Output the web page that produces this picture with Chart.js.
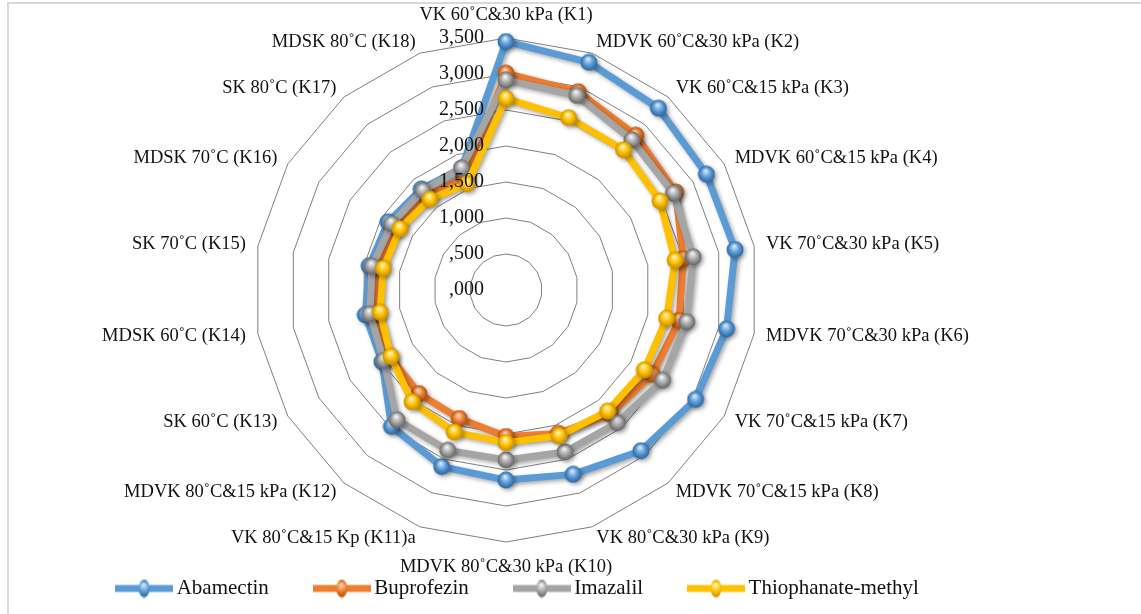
<!DOCTYPE html>
<html>
<head>
<meta charset="utf-8">
<script src="https://cdn.jsdelivr.net/npm/chart.js@4.4.1/dist/chart.umd.min.js"></script>
<style>
  html, body { margin: 0; padding: 0; background: #fff; }
  #wrap { position: relative; width: 1141px; height: 614px; overflow: hidden; }
  #frame { position: absolute; left: 7px; top: 2px; right: -10px; bottom: -10px;
           border-left: 2px solid #d9d9d9; border-top: 2px solid #d9d9d9; }
  canvas { position: absolute; left: 0; top: 0; }
</style>
</head>
<body>
<div id="wrap"><div id="frame"></div><canvas id="radar" width="1141" height="614"></canvas></div>
<script>
// categories (clockwise from top)
const categories = [
  'VK 60˚C&30 kPa (K1)', 'MDVK 60˚C&30 kPa (K2)', 'VK 60˚C&15 kPa (K3)', 'MDVK 60˚C&15 kPa (K4)',
  'VK 70˚C&30 kPa (K5)', 'MDVK 70˚C&30 kPa (K6)', 'VK 70˚C&15 kPa (K7)', 'MDVK 70˚C&15 kPa (K8)',
  'VK 80˚C&30 kPa (K9)', 'MDVK 80˚C&30 kPa (K10)', 'VK 80˚C&15 Kp (K11)a', 'MDVK 80˚C&15 kPa (K12)',
  'SK 60˚C (K13)', 'MDSK 60˚C (K14)', 'SK 70˚C (K15)', 'MDSK 70˚C (K16)', 'SK 80˚C (K17)', 'MDSK 80˚C (K18)'
];
const abamectin    = [3450, 3365, 3295, 3215, 3230, 3110, 3040, 2915, 2725, 2640, 2610, 2475, 1990, 1985, 1930, 1890, 1830, 1800];
const buprofezin   = [3010, 2930, 2805, 2720, 2500, 2440, 2345, 2250, 2120, 2035, 1900, 1880, 1860, 1830, 1790, 1760, 1710, 1660];
const imazalil     = [2915, 2875, 2720, 2685, 2640, 2550, 2510, 2405, 2395, 2360, 2370, 2355, 1960, 1920, 1890, 1835, 1800, 1800];
const thiophanate  = [2660, 2545, 2540, 2470, 2385, 2265, 2220, 2195, 2155, 2120, 2100, 2030, 1845, 1775, 1730, 1700, 1645, 1570];
const tickLabels   = [',000', ',500', '1,000', '1,500', '2,000', '2,500', '3,000', '3,500'];

const FONT = '"Liberation Serif", "Times New Roman", serif';

// glossy ball marker
function sphere(base, light, dark, w, h) {
  const c = document.createElement('canvas'); c.width = w; c.height = h;
  const g = c.getContext('2d');
  const grd = g.createRadialGradient(w * 0.45, h * 0.3, 0.5, w / 2, h / 2, Math.max(w, h) / 2);
  grd.addColorStop(0, light); grd.addColorStop(0.5, base); grd.addColorStop(0.9, dark); grd.addColorStop(1, base);
  g.fillStyle = grd;
  g.beginPath(); g.ellipse(w / 2, h / 2, w / 2 - 0.5, h / 2 - 0.5, 0, 0, Math.PI * 2); g.fill();
  return c;
}
function legendIcon(base, light, dark) {
  const c = document.createElement('canvas'); c.width = 58; c.height = 20;
  const g = c.getContext('2d');
  g.fillStyle = base; g.fillRect(0, 6.5, 58, 7);
  g.drawImage(sphere(base, light, dark, 12, 19), 23, 0.5);
  return c;
}

const palette = [
  ['#5B9BD5', '#d6e9fa', '#2f6aa5'],
  ['#ED7D31', '#fbd2b4', '#b0520f'],
  ['#A5A5A5', '#f4f4f4', '#6a6a6a'],
  ['#FFC000', '#fff5c0', '#c99200']
];
const names = ['Abamectin', 'Buprofezin', 'Imazalil', 'Thiophanate-methyl'];
const series = [abamectin, buprofezin, imazalil, thiophanate];

const datasets = series.map((d, i) => ({
  label: names[i],
  data: d,
  borderColor: palette[i][0],
  backgroundColor: palette[i][0],
  borderWidth: 7,
  borderJoinStyle: 'round',
  fill: false,
  tension: 0,
  pointStyle: sphere(palette[i][0], palette[i][1], palette[i][2], 18, 18),
  pointRadius: 9,
  order: 4 - i
}));
const icons = palette.map(p => legendIcon(p[0], p[1], p[2]));

const shadowPlugin = {
  id: 'shadow',
  beforeDatasetDraw(chart) {
    const ctx = chart.ctx; ctx.save();
    ctx.shadowColor = 'rgba(0,0,0,0.35)'; ctx.shadowBlur = 4; ctx.shadowOffsetX = 2; ctx.shadowOffsetY = 2;
  },
  afterDatasetDraw(chart) { chart.ctx.restore(); }
};

const labelPlugin = {
  id: 'excelLabels',
  afterDatasetsDraw(chart) {
    const r = chart.scales.r, ctx = chart.ctx;
    ctx.save();
    ctx.fillStyle = '#111';
    ctx.font = '20px ' + FONT;
    ctx.textAlign = 'right'; ctx.textBaseline = 'middle';
    r.ticks.forEach((t, i) => {
      ctx.fillText(tickLabels[i], r.xCenter - 22, r.yCenter - r.getDistanceFromCenterForValue(t.value));
    });
    ctx.font = '18.5px ' + FONT;
    categories.forEach((c, i) => {
      const a = Math.round(((r.getIndexAngle(i) * 180 / Math.PI) % 360 + 360) % 360);
      const p = r.getPointPosition(i, r.drawingArea + (a === 0 ? 14 : a === 180 ? 16 : 12));
      if (a === 0) { ctx.textAlign = 'center'; ctx.textBaseline = 'bottom'; }
      else if (a === 180) { ctx.textAlign = 'center'; ctx.textBaseline = 'top'; }
      else { ctx.textAlign = a < 180 ? 'left' : 'right'; ctx.textBaseline = 'middle'; }
      ctx.fillText(c, p.x, p.y);
    });
    ctx.restore();
  }
};

new Chart(document.getElementById('radar'), {
  type: 'radar',
  data: { labels: categories, datasets },
  options: {
    responsive: false,
    animation: false,
    events: [],
    layout: { padding: { right: 100, bottom: 5 } },
    scales: {
      r: {
        min: 0, max: 3500,
        ticks: { stepSize: 500, display: false },
        grid: { color: '#7f7f7f', lineWidth: 1 },
        angleLines: { display: false },
        pointLabels: { display: false },
        afterFit(scale) { scale.xCenter = 506; scale.yCenter = 290; scale.drawingArea = 252; }
      }
    },
    plugins: {
      tooltip: { enabled: false },
      legend: {
        position: 'bottom',
        labels: {
          usePointStyle: true, pointStyleWidth: 44, boxHeight: 20, padding: 51,
          color: '#111', font: { family: FONT, size: 21 },
          generateLabels: chart => chart.data.datasets.map((ds, i) => ({
            text: ds.label, pointStyle: icons[i], datasetIndex: i,
            fillStyle: ds.borderColor, strokeStyle: ds.borderColor, lineWidth: 0, hidden: false, fontColor: '#111'
          }))
        }
      }
    }
  },
  plugins: [shadowPlugin, labelPlugin]
});
</script>
</body>
</html>
